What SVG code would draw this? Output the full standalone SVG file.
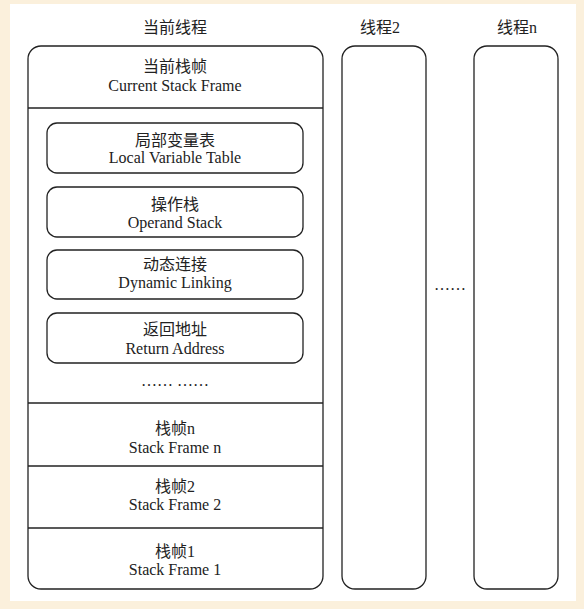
<svg xmlns="http://www.w3.org/2000/svg" width="584" height="609" viewBox="0 0 584 609">
<style>
.t{font-family:"Liberation Serif","Noto Sans CJK SC",serif;font-size:16px;fill:#222;text-anchor:middle}
.box{fill:#fff;stroke:#222;stroke-width:1.3}
.ln{stroke:#222;stroke-width:1.3;fill:none}
</style>
<rect x="0" y="0" width="584" height="609" fill="#fbf0dc"/>
<rect x="10" y="4" width="566" height="597" fill="#fff"/>
<g id="thread-current">
<text class="t" x="175" y="33">当前线程</text>
<rect class="box" x="28" y="46" width="295" height="543" rx="13"/>
<line class="ln" x1="28" y1="108" x2="323" y2="108"/>
<line class="ln" x1="28" y1="403" x2="323" y2="403"/>
<line class="ln" x1="28" y1="466" x2="323" y2="466"/>
<line class="ln" x1="28" y1="528" x2="323" y2="528"/>
</g>
<g id="current-frame">
<text class="t" x="175" y="72">当前栈帧</text>
<text class="t" x="175" y="91">Current Stack Frame</text>
</g>
<g id="local-var">
<rect class="box" x="47" y="123" width="256" height="50" rx="10"/>
<text class="t" x="175" y="146">局部变量表</text>
<text class="t" x="175" y="163">Local Variable Table</text>
</g>
<g id="operand">
<rect class="box" x="47" y="187" width="256" height="50" rx="10"/>
<text class="t" x="175" y="210">操作栈</text>
<text class="t" x="175" y="228">Operand Stack</text>
</g>
<g id="dynlink">
<rect class="box" x="47" y="250" width="256" height="49" rx="10"/>
<text class="t" x="175" y="270">动态连接</text>
<text class="t" x="175" y="288">Dynamic Linking</text>
</g>
<g id="retaddr">
<rect class="box" x="47" y="313" width="256" height="50" rx="10"/>
<text class="t" x="175" y="335">返回地址</text>
<text class="t" x="175" y="354">Return Address</text>
</g>
<g id="inner-ellipsis">
<text class="t" x="175" y="386">…… ……</text>
</g>
<g id="frame-n">
<text class="t" x="175" y="434">栈帧n</text>
<text class="t" x="175" y="453">Stack Frame n</text>
</g>
<g id="frame-2">
<text class="t" x="175" y="492">栈帧2</text>
<text class="t" x="175" y="510">Stack Frame 2</text>
</g>
<g id="frame-1">
<text class="t" x="175" y="557">栈帧1</text>
<text class="t" x="175" y="575">Stack Frame 1</text>
</g>
<g id="thread-2">
<text class="t" x="380" y="33">线程2</text>
<rect class="box" x="342" y="46" width="84" height="543" rx="13"/>
</g>
<g id="thread-ellipsis">
<text class="t" x="450" y="290">……</text>
</g>
<g id="thread-n">
<text class="t" x="517" y="33">线程n</text>
<rect class="box" x="474" y="46" width="84" height="543" rx="13"/>
</g>
<g id="connectors"></g>
</svg>
